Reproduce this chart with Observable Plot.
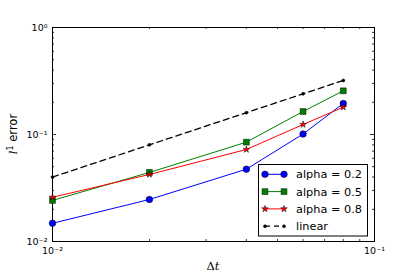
<!DOCTYPE html>
<html><head><meta charset="utf-8">
<script src="https://cdn.jsdelivr.net/npm/d3@7"></script>
<script src="https://cdn.jsdelivr.net/npm/@observablehq/plot@0.6"></script>
<style>body{margin:0;background:#fff} svg{font-family:"DejaVu Sans";background:#fff}</style>
</head><body><div id="chart"></div>
<script>
// data
const dt = [0.01, 0.02, 0.04, 0.06, 0.08];
const alpha02 = [0.0148, 0.0247, 0.0474, 0.101, 0.195];
const alpha05 = [0.0242, 0.0442, 0.0848, 0.164, 0.256];
const alpha08 = [0.0259, 0.0423, 0.0724, 0.124, 0.180];
const linear = [0.04, 0.08, 0.16, 0.24, 0.32];
const seriesNames = ["alpha = 0.2", "alpha = 0.5", "alpha = 0.8", "linear"];
const xMajor = [0.01, 0.1];
const yMajor = [0.01, 0.1, 1];
const xMinor = [0.02, 0.03, 0.04, 0.05, 0.06, 0.07, 0.08, 0.09];
const yMinor = [0.02,0.03,0.04,0.05,0.06,0.07,0.08,0.09,0.2,0.3,0.4,0.5,0.6,0.7,0.8,0.9];
const supers = {"0":"\u2070","1":"\u00b9","2":"\u00b2","-":"\u207b"};
const fmt = v => "10" + String(Math.round(Math.log10(v))).split("").map(c => supers[c]).join("");

const W = 415, H = 277, mt = 27, mb = 36, ml = 52, mr = 41;
const PH = H - mt - mb, PW = W - ml - mr;

const styles = [
  {values: alpha02, color: "#0000ff", symbol: "circle", r: 3.3, fill: "#0000ff", dash: null, sw: 1},
  {values: alpha05, color: "#008000", symbol: "square", r: 3.3, fill: "#008000", dash: null, sw: 1},
  {values: alpha08, color: "#ff0000", symbol: "star", r: 2.1, fill: "#ff0000", dash: null, sw: 1},
  {values: linear, color: "#000000", symbol: "circle", r: 1.5, fill: "#000000", dash: "6,4", sw: 1.3}
];
const rowsFor = s => dt.map((x, i) => ({x, y: s.values[i]}));

const marks = [
  Plot.frame({stroke: "black", strokeWidth: 1}),
  Plot.tickX(xMinor, {x: d => d, insetTop: PH - 2, stroke: "black", strokeWidth: 0.8}),
  Plot.tickX(xMinor, {x: d => d, insetBottom: PH - 2, stroke: "black", strokeWidth: 0.8}),
  Plot.tickY(yMinor, {y: d => d, insetRight: PW - 2, stroke: "black", strokeWidth: 0.8}),
  Plot.tickY(yMinor, {y: d => d, insetLeft: PW - 2, stroke: "black", strokeWidth: 0.8}),
  Plot.tickY(yMajor, {y: d => d, insetRight: PW - 4, stroke: "black", strokeWidth: 0.8}),
  Plot.tickY(yMajor, {y: d => d, insetLeft: PW - 4, stroke: "black", strokeWidth: 0.8}),
  Plot.axisY(yMajor, {tickSize: 0, tickPadding: 5, tickFormat: fmt, fontSize: 9.5, fill: "black"}),
  Plot.axisX(xMajor, {tickSize: 0, tickPadding: 6, tickFormat: fmt, fontSize: 9.5, fill: "black"})
];
styles.forEach(s => {
  marks.push(Plot.line(rowsFor(s), {x: "x", y: "y", stroke: s.color, strokeWidth: s.sw, strokeDasharray: s.dash}));
  marks.push(Plot.dot(rowsFor(s), {x: "x", y: "y", symbol: s.symbol, r: s.r, fill: s.fill, stroke: "black", strokeWidth: 0.5}));
});

const chart = Plot.plot({
  width: W, height: H,
  marginTop: mt, marginBottom: mb, marginLeft: ml, marginRight: mr,
  x: {type: "log", domain: [0.01, 0.1], label: null},
  y: {type: "log", domain: [0.01, 1], label: null},
  style: {fontFamily: "DejaVu Sans", background: "white"},
  marks
});
document.getElementById("chart").append(chart);

const svg = d3.select(chart);
// axis titles
const yl = svg.append("text").attr("transform", "translate(17,134) rotate(-90)")
  .attr("text-anchor", "middle").attr("font-size", 11.5).attr("fill", "black");
yl.append("tspan").attr("font-family", "DejaVu Serif").attr("font-style", "italic").text("l");
yl.append("tspan").attr("font-size", 8).attr("dy", -4).text("1");
yl.append("tspan").attr("dy", 4).text(" error");
const xl = svg.append("text").attr("x", 213).attr("y", 270)
  .attr("text-anchor", "middle").attr("font-size", 11.5).attr("fill", "black");
xl.append("tspan").attr("font-family", "DejaVu Serif").text("\u0394");
xl.append("tspan").attr("font-family", "DejaVu Serif").attr("font-style", "italic").text("t");

// legend
const lg = svg.append("g").attr("text-anchor", "start");
lg.append("rect").attr("x", 258.5).attr("y", 164.5).attr("width", 109).attr("height", 71.5)
  .attr("fill", "white").attr("stroke", "black").attr("stroke-width", 1);
const sym = {circle: d3.symbolCircle, square: d3.symbolSquare, star: d3.symbolStar};
styles.forEach((s, i) => {
  const y = 174.3 + i * 17.3;
  lg.append("line").attr("x1", 265).attr("x2", 284).attr("y1", y).attr("y2", y)
    .attr("stroke", s.color).attr("stroke-width", s.sw).attr("stroke-dasharray", s.dash ? "5,4" : null);
  [265, 284].forEach(cx => {
    lg.append("path").attr("transform", `translate(${cx},${y})`)
      .attr("d", d3.symbol(sym[s.symbol], Math.PI * s.r * s.r)())
      .attr("fill", s.fill).attr("stroke", "black").attr("stroke-width", 0.5);
  });
  lg.append("text").attr("x", 296).attr("y", y + 4).attr("text-anchor", "start")
    .attr("font-size", 11.3).attr("fill", "black").text(seriesNames[i]);
});
</script></body></html>
